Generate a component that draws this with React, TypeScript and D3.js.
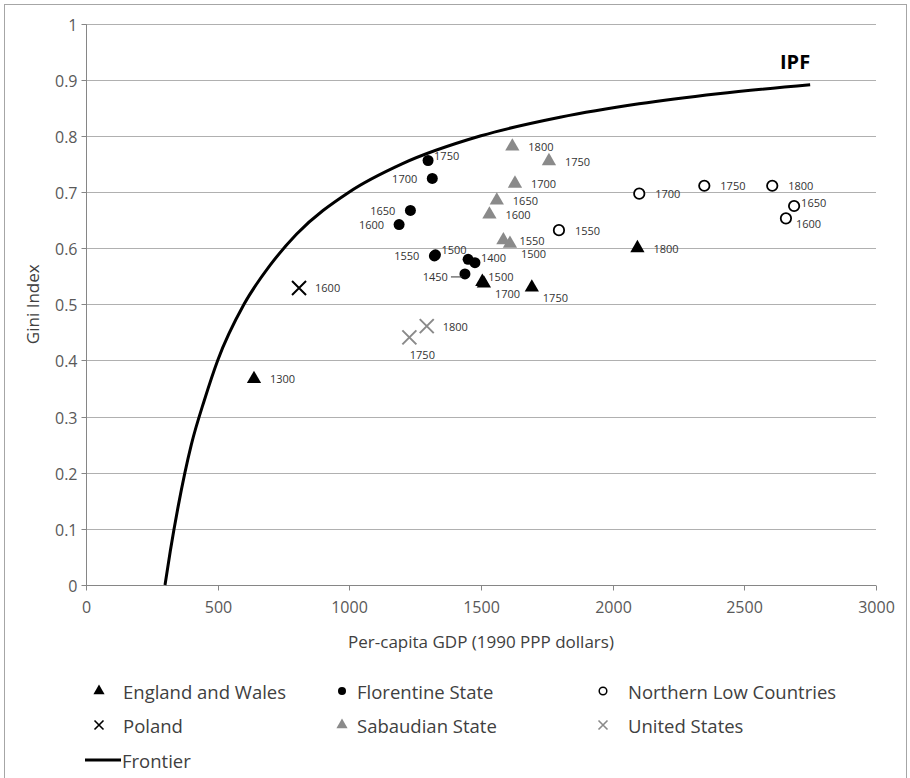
import React from "react";
import * as d3 from "d3";

// values
const xTicks = [0, 500, 1000, 1500, 2000, 2500, 3000];
const yTicks = [0, 0.1, 0.2, 0.3, 0.4, 0.5, 0.6, 0.7, 0.8, 0.9, 1];

const englandYears = ["1300", "1500", "1700", "1750", "1800"];
const englandGdp = [638, 1505, 1511, 1693, 2094];
const englandGini = [0.367, 0.54, 0.537, 0.53, 0.6];
const englandLabelPos = ["r", "ra", "rb", "rb", "r"];

const florenceYears = ["1400", "", "1450", "1500", "1550", "1600", "1650", "1700", "1750"];
const florenceGdp = [1477, 1451, 1439, 1327, 1323, 1189, 1232, 1315, 1299];
const florenceGini = [0.574, 0.58, 0.554, 0.588, 0.586, 0.642, 0.667, 0.724, 0.756];
const florenceLabelPos = ["ra", "none", "lead", "ra", "l", "l", "l", "l", "ra"];

const lowCountriesYears = ["1550", "1600", "1650", "1700", "1750", "1800"];
const lowCountriesGdp = [1796, 2658, 2689, 2101, 2348, 2606];
const lowCountriesGini = [0.632, 0.653, 0.675, 0.697, 0.711, 0.711];
const lowCountriesLabelPos = ["r", "nb", "na", "r", "r", "r"];

const polandYears = ["1600"];
const polandGdp = [809];
const polandGini = [0.529];
const polandLabelPos = ["r"];

const savoyYears = ["1500", "1550", "1600", "1650", "1700", "1750", "1800"];
const savoyGdp = [1610, 1585, 1532, 1560, 1629, 1758, 1619];
const savoyGini = [0.608, 0.614, 0.66, 0.685, 0.715, 0.755, 0.781];
const savoyLabelPos = ["rb", "r", "r", "r", "r", "r", "r"];

const usYears = ["1750", "1800"];
const usGdp = [1228, 1294];
const usGini = [0.441, 0.461];
const usLabelPos = ["b", "r"];

const frontierGdp = [300, 320, 350, 400, 450, 500, 600, 700, 800, 1000, 1200, 1500, 1800, 2100, 2400, 2750];
const frontierGini = [0, 0.06, 0.14, 0.25, 0.33, 0.4, 0.5, 0.57, 0.625, 0.7, 0.75, 0.8, 0.833, 0.857, 0.875, 0.891];

const legendRows = [
  ["England and Wales", "Florentine State", "Northern Low Countries"],
  ["Poland", "Sabaudian State", "United States"],
];
const legendKinds = [
  ["tri", "dot", "ring"],
  ["x", "triGray", "xGray"],
];

const GRAY = "#8a8a8a";
const FONT = "'Open Sans', sans-serif";

// label offsets by placement keyword: [dx, dy, anchor]
const labelOffsets = {
  r: [16, 0, "start"],
  l: [-15, 0, "end"],
  ra: [6, -5, "start"],
  rb: [11, 10, "start"],
  na: [7, -3, "start"],
  nb: [10, 5, "start"],
  b: [13, 17, "middle"],
  lead: [-17, 3, "end"],
};

const zip = (years, gdp, gini, pos) => years.map((y, i) => ({ year: y, gdp: gdp[i], gini: gini[i], pos: pos[i] }));

const series = [
  { kind: "ring", pts: zip(lowCountriesYears, lowCountriesGdp, lowCountriesGini, lowCountriesLabelPos) },
  { kind: "triGray", pts: zip(savoyYears, savoyGdp, savoyGini, savoyLabelPos) },
  { kind: "xGray", pts: zip(usYears, usGdp, usGini, usLabelPos) },
  { kind: "x", pts: zip(polandYears, polandGdp, polandGini, polandLabelPos) },
  { kind: "tri", pts: zip(englandYears, englandGdp, englandGini, englandLabelPos) },
  { kind: "dot", pts: zip(florenceYears, florenceGdp, florenceGini, florenceLabelPos) },
];

const tri = d3.symbol().type(d3.symbolTriangle).size(88)();
const triSmall = d3.symbol().type(d3.symbolTriangle).size(54)();
const cross = (s) => `M${-s},${-s}L${s},${s}M${-s},${s}L${s},${-s}`;

const Marker = ({ kind, small, tx, ty }) => {
  const t = `translate(${tx},${ty})`;
  if (kind === "tri" || kind === "triGray")
    return <path transform={t} d={small ? triSmall : tri} fill={kind === "tri" ? "#000" : GRAY} />;
  if (kind === "dot") return <circle transform={t} r={small ? 4 : 5.5} fill="#000" />;
  if (kind === "ring")
    return <circle transform={t} r={small ? 3.8 : 5.2} fill="#fff" stroke="#000" strokeWidth={small ? 1.5 : 1.8} />;
  return (
    <path
      transform={t}
      d={cross(small ? 4.5 : 7)}
      fill="none"
      stroke={kind === "x" ? "#000" : GRAY}
      strokeWidth={small ? 1.6 : 2}
    />
  );
};

const App = () => {
  const width = 910;
  const height = 778;
  const plot = { left: 86, right: 876, top: 23.5, bottom: 585 };

  const x = d3.scaleLinear().domain([0, 3000]).range([plot.left, plot.right]);
  const y = d3.scaleLinear().domain([0, 1]).range([plot.bottom, plot.top]);
  const ry = (v) => Math.round(y(v)) + 0.5;

  const line = d3
    .line()
    .x((d) => x(d[0]))
    .y((d) => y(d[1]))
    .curve(d3.curveMonotoneX);
  const frontier = frontierGdp.map((g, i) => [g, frontierGini[i]]);
  const last = frontier[frontier.length - 1];

  const colMarkerX = [99, 342, 603];
  const colTextX = [123, 357, 628];
  const rowY = [691, 725, 760];

  return (
    <svg
      width={width}
      height={height}
      style={{ position: "absolute", left: 0, top: 0, background: "#fff", fontFamily: FONT }}
    >
      <rect x={4.5} y={4.5} width={902} height={800} fill="none" stroke="#a6a6a6" />

      {yTicks.slice(1).map((t) => (
        <line key={"g" + t} x1={plot.left} x2={plot.right} y1={ry(t)} y2={ry(t)} stroke="#b0b0b0" />
      ))}

      {/* y axis */}
      <line x1={plot.left + 0.5} x2={plot.left + 0.5} y1={ry(1)} y2={ry(0)} stroke="#868686" />
      {yTicks.map((t) => (
        <g key={"y" + t} transform={`translate(${plot.left + 0.5},${ry(t)})`}>
          <line x1={-5} x2={0} stroke="#868686" />
          <text x={-9} textAnchor="end" dominantBaseline="central" fontSize={16} fill="#595959">
            {t === 0 || t === 1 ? String(t) : d3.format(".1f")(t)}
          </text>
        </g>
      ))}

      {/* x axis */}
      <line x1={plot.left} x2={plot.right} y1={ry(0)} y2={ry(0)} stroke="#868686" />
      {xTicks.map((t) => (
        <g key={"x" + t} transform={`translate(${Math.round(x(t)) + 0.5},${ry(0)})`}>
          <line y1={0} y2={5} stroke="#868686" />
          <text y={21} textAnchor="middle" dominantBaseline="central" fontSize={16} fill="#595959">
            {d3.format("d")(t)}
          </text>
        </g>
      ))}

      <text x={(plot.left + plot.right) / 2} y={641} textAnchor="middle" dominantBaseline="central" fontSize={17} fill="#404040">
        Per-capita GDP (1990 PPP dollars)
      </text>
      <text
        transform={`translate(32,${(plot.top + plot.bottom) / 2}) rotate(-90)`}
        textAnchor="middle"
        dominantBaseline="central"
        fontSize={17}
        fill="#404040"
      >
        Gini Index
      </text>

      {/* frontier */}
      <path d={line(frontier)} fill="none" stroke="#000" strokeWidth={3} />
      <text x={x(last[0])} y={y(last[1]) - 16} textAnchor="end" fontSize={20} fontWeight="bold" fill="#000">
        IPF
      </text>

      {/* markers */}
      {series.map((s) =>
        s.pts.map((p, i) => <Marker key={s.kind + i} kind={s.kind} small={false} tx={x(p.gdp)} ty={y(p.gini)} />)
      )}

      {/* data labels */}
      {series.map((s) =>
        s.pts.map((p, i) => {
          if (!p.year || p.pos === "none") return null;
          const [dx, dy, anchor] = labelOffsets[p.pos];
          const px = x(p.gdp);
          const py = y(p.gini);
          return (
            <g key={"l" + s.kind + i}>
              <text x={px + dx} y={py + dy} textAnchor={anchor} dominantBaseline="central" fontSize={11} fill="#333">
                {p.year}
              </text>
              {p.pos === "lead" && (
                <line x1={px + dx + 3} x2={px - 3} y1={py + dy} y2={py + dy} stroke="#333" />
              )}
            </g>
          );
        })
      )}

      {/* legend */}
      {legendRows.map((row, r) =>
        row.map((label, c) => (
          <g key={"lg" + r + c}>
            <Marker kind={legendKinds[r][c]} small={true} tx={colMarkerX[c]} ty={rowY[r]} />
            <text x={colTextX[c]} y={rowY[r]} dominantBaseline="central" fontSize={18.5} fill="#404040">
              {label}
            </text>
          </g>
        ))
      )}
      <line x1={85} x2={121} y1={rowY[2]} y2={rowY[2]} stroke="#000" strokeWidth={3} />
      <text x={122} y={rowY[2]} dominantBaseline="central" fontSize={18.5} fill="#404040">
        Frontier
      </text>
    </svg>
  );
};

export default App;
